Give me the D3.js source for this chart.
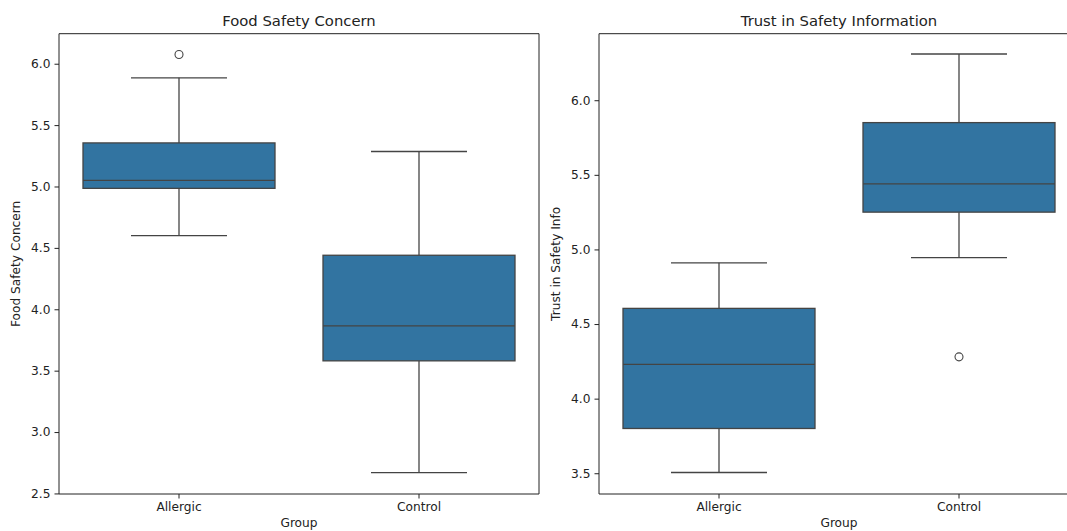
<!DOCTYPE html>
<html>
<head>
<meta charset="utf-8">
<script src="https://cdn.jsdelivr.net/npm/d3@7"></script>
<style>
  html, body { margin: 0; padding: 0; background: #fff; }
  svg { display: block; font-family: "DejaVu Sans", sans-serif; }
</style>
</head>
<body>
<svg id="chart" width="1067" height="531"></svg>
<script>
// Groups compared in both panels
const groups = ["Allergic", "Control"];

// Five-number summaries per group: lower whisker, Q1, median, Q3, upper whisker
const concernLow    = [4.60, 2.67];
const concernQ1     = [4.985, 3.58];
const concernMedian = [5.05, 3.865];
const concernQ3     = [5.355, 4.44];
const concernHigh   = [5.885, 5.285];
const concernOutliers = [[6.075], []];

const trustLow    = [3.505, 4.945];
const trustQ1     = [3.80, 5.25];
const trustMedian = [4.23, 5.44];
const trustQ3     = [4.605, 5.85];
const trustHigh   = [4.91, 6.31];
const trustOutliers = [[], [4.28]];

// Tick values for each y axis
const concernTicks = [2.5, 3.0, 3.5, 4.0, 4.5, 5.0, 5.5, 6.0];
const trustTicks   = [3.5, 4.0, 4.5, 5.0, 5.5, 6.0];

const boxFill = "#3274a1";
const lineCol = "#444444";

const svg = d3.select("#chart");

function panel(opts) {
  const { x0, x1, y0, y1, domain, ticks, title, ylabel, low, q1, med, q3, high, outliers, rightSpine } = opts;

  const x = d3.scaleBand().domain(groups).range([x0, x1]).paddingInner(0).paddingOuter(0);
  const y = d3.scaleLinear().domain(domain).range([y1, y0]);
  const g = svg.append("g");

  const boxW = x.bandwidth() * 0.8;
  const capW = boxW / 2;

  groups.forEach((grp, i) => {
    const cx = x(grp) + x.bandwidth() / 2;
    // whiskers
    g.append("line").attr("x1", cx).attr("x2", cx).attr("y1", y(q3[i])).attr("y2", y(high[i]))
      .attr("stroke", lineCol).attr("stroke-width", 1.3);
    g.append("line").attr("x1", cx).attr("x2", cx).attr("y1", y(q1[i])).attr("y2", y(low[i]))
      .attr("stroke", lineCol).attr("stroke-width", 1.3);
    // caps
    g.append("line").attr("x1", cx - capW / 2).attr("x2", cx + capW / 2).attr("y1", y(high[i])).attr("y2", y(high[i]))
      .attr("stroke", lineCol).attr("stroke-width", 1.3);
    g.append("line").attr("x1", cx - capW / 2).attr("x2", cx + capW / 2).attr("y1", y(low[i])).attr("y2", y(low[i]))
      .attr("stroke", lineCol).attr("stroke-width", 1.3);
    // box
    g.append("rect").attr("x", cx - boxW / 2).attr("width", boxW)
      .attr("y", y(q3[i])).attr("height", y(q1[i]) - y(q3[i]))
      .attr("fill", boxFill).attr("stroke", lineCol).attr("stroke-width", 1.3);
    // median
    g.append("line").attr("x1", cx - boxW / 2).attr("x2", cx + boxW / 2).attr("y1", y(med[i])).attr("y2", y(med[i]))
      .attr("stroke", lineCol).attr("stroke-width", 1.3);
    // outliers
    outliers[i].forEach(v => {
      g.append("circle").attr("cx", cx).attr("cy", y(v)).attr("r", 4)
        .attr("fill", "none").attr("stroke", lineCol).attr("stroke-width", 1.1);
    });
  });

  // axes
  const yAxis = g.append("g").attr("transform", `translate(${x0},0)`)
    .call(d3.axisLeft(y).tickValues(ticks).tickFormat(d3.format(".1f")).tickSizeOuter(0).tickSize(4.5).tickPadding(4));
  const xAxis = g.append("g").attr("transform", `translate(0,${y1})`)
    .call(d3.axisBottom(x).tickSizeOuter(0).tickSize(4.5).tickPadding(4));
  [yAxis, xAxis].forEach(a => {
    a.select(".domain").remove();
    a.selectAll("line").attr("stroke", "#222").attr("stroke-width", 1);
    a.selectAll("text").attr("fill", "#222").style("font-size", "12.2px").style("font-family", "DejaVu Sans");
  });

  // spines
  const sp = (xa, ya, xb, yb) => g.append("line").attr("x1", xa).attr("y1", ya).attr("x2", xb).attr("y2", yb)
    .attr("stroke", "#222").attr("stroke-width", 1);
  sp(x0, y0, x0, y1);
  sp(x0, y1, x1, y1);
  sp(x0, y0, x1, y0);
  if (rightSpine) sp(x1, y0, x1, y1);

  // title
  g.append("text").attr("x", (x0 + x1) / 2).attr("y", y0 - 8).attr("text-anchor", "middle")
    .attr("fill", "#222").style("font-size", "14.8px").text(title);
  // axis labels
  g.append("text").attr("x", (x0 + x1) / 2).attr("y", y1 + 33).attr("text-anchor", "middle")
    .attr("fill", "#222").style("font-size", "12.2px").text("Group");
  g.append("text").attr("transform", `translate(${x0 - 39},${(y0 + y1) / 2}) rotate(-90)`)
    .attr("text-anchor", "middle").attr("fill", "#222").style("font-size", "12.2px").text(ylabel);
}

panel({
  x0: 59, x1: 539, y0: 33.7, y1: 494,
  domain: [2.4955, 6.2445], ticks: concernTicks,
  title: "Food Safety Concern", ylabel: "Food Safety Concern",
  low: concernLow, q1: concernQ1, med: concernMedian, q3: concernQ3, high: concernHigh,
  outliers: concernOutliers, rightSpine: true
});

panel({
  x0: 599, x1: 1079, y0: 33.7, y1: 494,
  domain: [3.3609, 6.4459], ticks: trustTicks,
  title: "Trust in Safety Information", ylabel: "Trust in Safety Info",
  low: trustLow, q1: trustQ1, med: trustMedian, q3: trustQ3, high: trustHigh,
  outliers: trustOutliers, rightSpine: true
});
</script>
</body>
</html>
